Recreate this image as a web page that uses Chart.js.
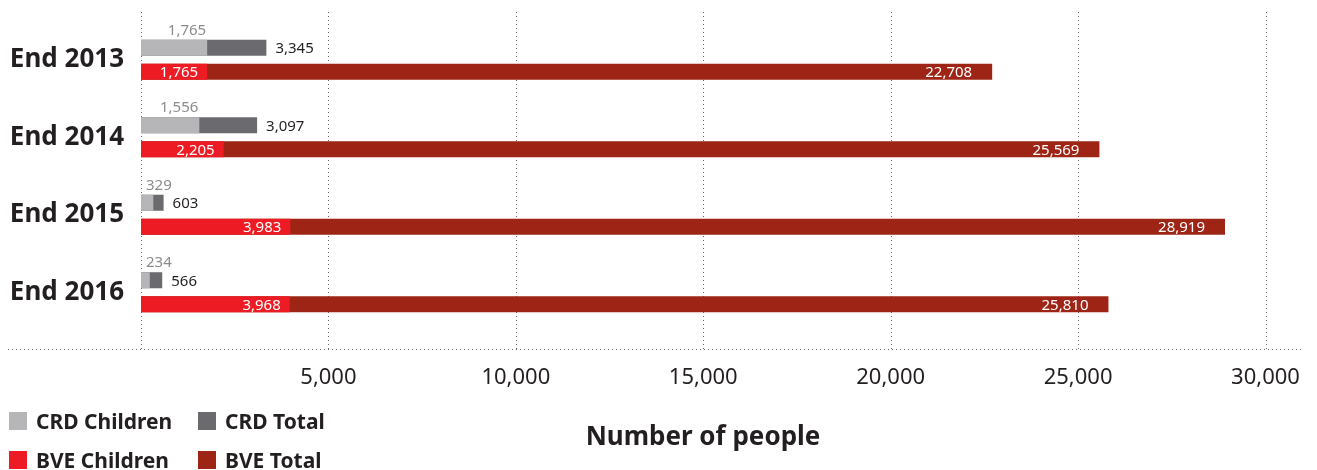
<!DOCTYPE html>
<html>
<head>
<meta charset="utf-8">
<script src="https://cdn.jsdelivr.net/npm/chart.js@4"></script>
<style>
	body { margin: 0; background: #fff; }
	#wrap { position: relative; width: 1317px; height: 470px; font-family: 'Noto Sans', sans-serif; color: #231f20; }
	#legend { position: absolute; left: 9px; top: 407px; width: 360px; }
	.item { position: absolute; display: flex; align-items: center; font-weight: bold; font-size: 21px; white-space: nowrap; }
	.swatch { width: 18px; height: 18px; margin-right: 9px; }
	#xtitle { position: absolute; left: 0; width: 1406px; text-align: center; top: 417px; font-weight: bold; font-size: 26px; }
</style>
</head>
<body>
<div id="wrap">
	<canvas id="chart" width="1317" height="470"></canvas>
	<div id="legend"></div>
	<div id="xtitle">Number of people</div>
</div>
<script>
const categories = ['End 2013', 'End 2014', 'End 2015', 'End 2016']
const crdChildren = [1765, 1556, 329, 234]
const crdTotal = [3345, 3097, 603, 566]
const bveChildren = [1765, 2205, 3983, 3968]
const bveTotal = [22708, 25569, 28919, 25810]
const xTicks = [0, 5000, 10000, 15000, 20000, 25000, 30000]

const colors = {
	crdChildren: '#b6b6b9',
	crdTotal: '#6b6b6f',
	bveChildren: '#ed1c24',
	bveTotal: '#9e2416',
}

const fmt = (v) => v.toLocaleString('en-US')

// dotted grid + long bottom rule, extends past the plot area like the original
const dottedGrid = {
	id: 'dottedGrid',
	beforeDatasetsDraw(chart) {
		const { ctx, scales } = chart
		const x = scales.x
		const bottom = 349.5
		ctx.save()
		ctx.strokeStyle = '#6a6a6a'
		ctx.lineWidth = 1
		ctx.setLineDash([1, 3])
		x.ticks.forEach((t) => {
			const px = Math.round(x.getPixelForValue(t.value)) + 0.5
			ctx.beginPath()
			ctx.moveTo(px, 12)
			ctx.lineTo(px, bottom)
			ctx.stroke()
		})
		ctx.beginPath()
		ctx.moveTo(8, bottom)
		ctx.lineTo(x.right, bottom)
		ctx.stroke()
		ctx.restore()
	},
}

// value labels next to / inside the bars
const barLabels = {
	id: 'barLabels',
	afterDatasetsDraw(chart) {
		const { ctx } = chart
		const left = chart.scales.x.getPixelForValue(0)
		ctx.save()
		ctx.font = '15px "Noto Sans"'
		chart.data.datasets.forEach((ds, i) => {
			const meta = chart.getDatasetMeta(i)
			meta.data.forEach((bar, j) => {
				const text = fmt(ds.data[j])
				const w = ctx.measureText(text).width
				const top = bar.y - bar.height / 2
				if (ds.key === 'crdChildren') {
					ctx.fillStyle = '#8c8c8e'
					ctx.textBaseline = 'alphabetic'
					ctx.textAlign = 'left'
					ctx.fillText(text, Math.max(bar.x - 1 - w, left + 5), top - 5)
				} else if (ds.key === 'crdTotal') {
					ctx.fillStyle = '#231f20'
					ctx.textBaseline = 'middle'
					ctx.textAlign = 'left'
					ctx.fillText(text, bar.x + 9, bar.y + 1)
				} else if (ds.key === 'bveChildren') {
					ctx.fillStyle = '#ffffff'
					ctx.textBaseline = 'middle'
					ctx.textAlign = 'right'
					ctx.fillText(text, bar.x - 9, bar.y + 1)
				} else {
					ctx.fillStyle = '#ffffff'
					ctx.textBaseline = 'middle'
					ctx.textAlign = 'right'
					ctx.fillText(text, bar.x - 20, bar.y + 1)
				}
			})
		})
		ctx.restore()
	},
}

const datasets = [
	{ key: 'crdChildren', label: 'CRD Children', data: crdChildren, backgroundColor: colors.crdChildren, stack: 'crd' },
	{ key: 'crdTotal', label: 'CRD Total', data: crdTotal, backgroundColor: colors.crdTotal, stack: 'crd' },
	{ key: 'bveChildren', label: 'BVE Children', data: bveChildren, backgroundColor: colors.bveChildren, stack: 'bve' },
	{ key: 'bveTotal', label: 'BVE Total', data: bveTotal, backgroundColor: colors.bveTotal, stack: 'bve' },
]

new Chart(document.getElementById('chart'), {
	type: 'bar',
	data: {
		labels: categories,
		datasets: datasets.map((d) => ({
			...d,
			borderWidth: 0,
			categoryPercentage: 0.62,
			barPercentage: 0.667,
		})),
	},
	options: {
		indexAxis: 'y',
		responsive: false,
		devicePixelRatio: 1,
		animation: false,
		layout: { padding: { top: 21, right: 14, left: 0, bottom: 0 } },
		plugins: { legend: { display: false }, tooltip: { enabled: false } },
		scales: {
			y: {
				stacked: true,
				grid: { display: false, drawTicks: false },
				border: { display: false },
				ticks: {
					color: '#231f20',
					padding: 17,
					font: { family: 'Noto Sans', size: 26, weight: 'bold' },
				},
				afterFit: (s) => {
					s.width = 141
					s.paddingTop = 0
					s.paddingBottom = 0
				},
			},
			x: {
				stacked: false,
				min: 0,
				max: 31000,
				grid: { display: false, drawTicks: false },
				border: { display: false },
				afterBuildTicks: (s) => {
					s.ticks = xTicks.map((v) => ({ value: v }))
				},
				ticks: {
					autoSkip: false,
					maxRotation: 0,
					padding: 34,
					color: '#231f20',
					font: { family: 'Noto Sans', size: 22 },
					callback: (v) => (v === 0 ? '' : fmt(v)),
				},
				afterFit: (s) => {
					s.height = 139
					s.paddingLeft = 0
					s.paddingRight = 0
				},
			},
		},
	},
	plugins: [dottedGrid, barLabels],
})

// legend: two rows of two, bottom left
const legendPos = [[0, 0], [189, 0], [0, 39], [189, 39]]
const legend = document.getElementById('legend')
datasets.forEach((d, i) => {
	const item = document.createElement('div')
	item.className = 'item'
	item.style.left = legendPos[i][0] + 'px'
	item.style.top = legendPos[i][1] + 'px'
	item.innerHTML = `<span class="swatch" style="background:${d.backgroundColor}"></span>${d.label}`
	legend.appendChild(item)
})
</script>
</body>
</html>
